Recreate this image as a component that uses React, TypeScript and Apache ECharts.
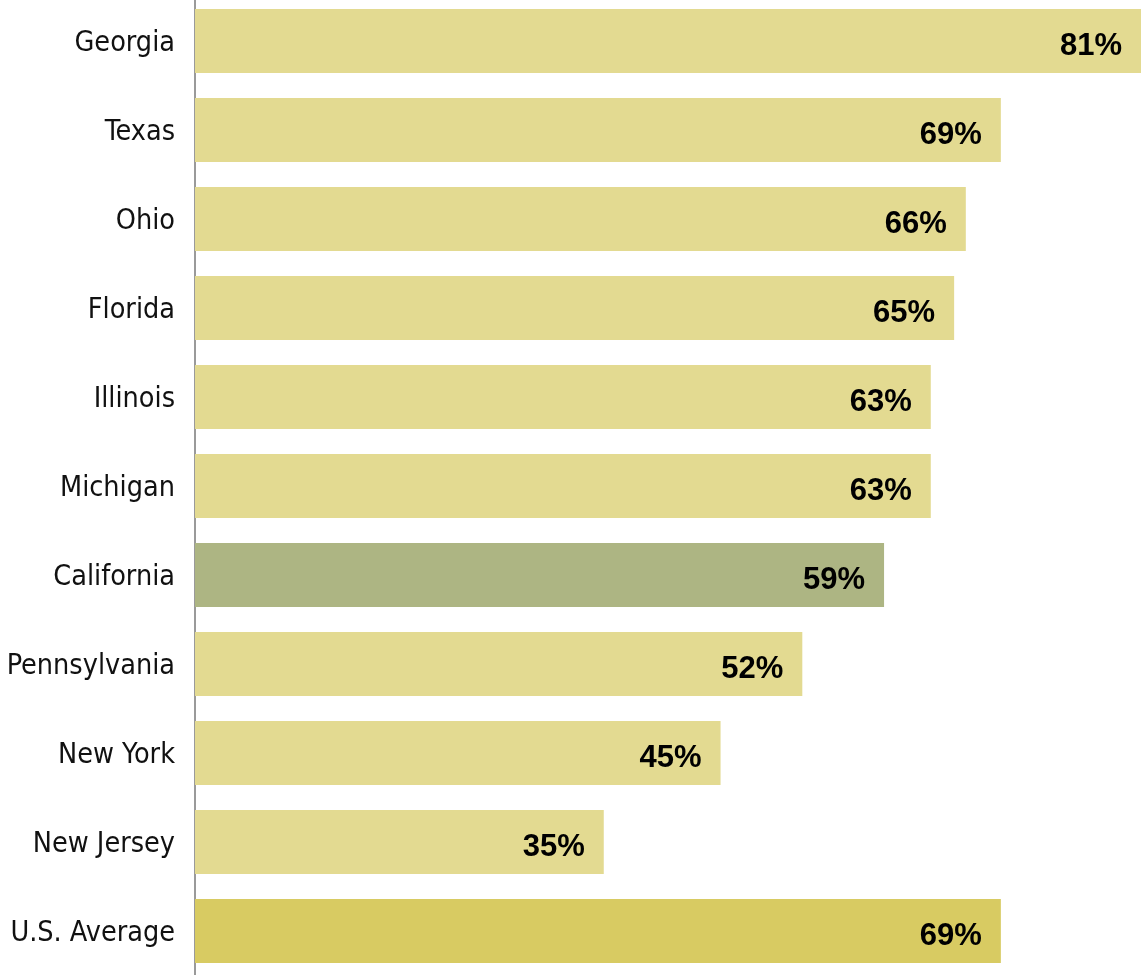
import React, { useEffect, useRef } from "react";
import * as echarts from "echarts";

const categories = ["Georgia", "Texas", "Ohio", "Florida", "Illinois", "Michigan", "California", "Pennsylvania", "New York", "New Jersey", "U.S. Average"];
const values = [81, 69, 66, 65, 63, 63, 59, 52, 45, 35, 69];
const barColors = ["#E3DA91", "#E3DA91", "#E3DA91", "#E3DA91", "#E3DA91", "#E3DA91", "#ADB583", "#E3DA91", "#E3DA91", "#E3DA91", "#D8CB62"];

export default function App() {
  const ref = useRef<HTMLDivElement>(null);
  useEffect(() => {
    if (!ref.current) return;
    const chart = echarts.init(ref.current, null, { renderer: "svg" });
    chart.setOption({
      animation: false,
      grid: { left: 195, right: 0, top: -3.5, bottom: -0.5, containLabel: false, outerBoundsMode: "none" },
      xAxis: { type: "value", min: 0, max: 81, show: false },
      yAxis: {
        type: "category",
        data: categories,
        inverse: true,
        axisLine: { show: true, lineStyle: { color: "#9A9A9A", width: 2 } },
        axisTick: { show: false },
        axisLabel: {
          margin: 20,
          color: "#111",
          fontSize: 28.5,
          fontFamily: "'Liberation Sans Narrow', 'DejaVu Sans Condensed', sans-serif",
        },
        splitLine: { show: false },
      },
      series: [
        {
          type: "bar",
          barWidth: 64,
          data: values.map((v, i) => ({ value: v, itemStyle: { color: barColors[i] } })),
          label: {
            show: true,
            position: "insideRight",
            distance: 19,
            formatter: "{c}%",
            color: "#000",
            fontSize: 31,
            fontWeight: "bold",
            fontFamily: "'Liberation Sans', Arial, sans-serif",
            offset: [0, 3],
          },
        },
      ],
    });
    return () => chart.dispose();
  }, []);
  return <div ref={ref} style={{ position: "fixed", left: 0, top: 0, width: 1141, height: 975 }} />;
}
